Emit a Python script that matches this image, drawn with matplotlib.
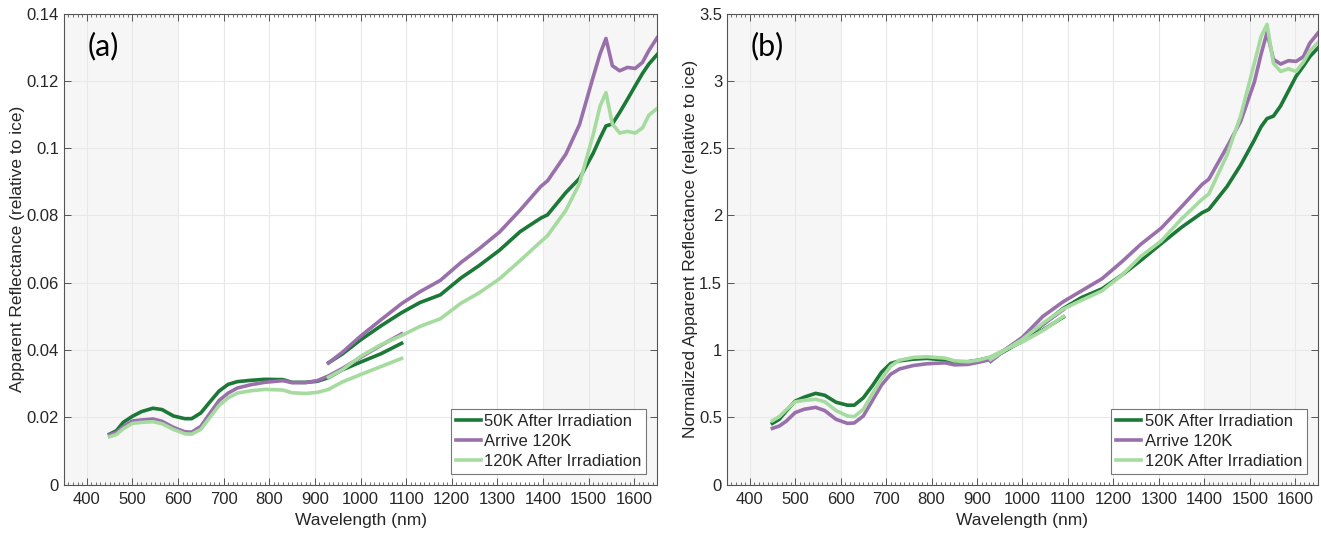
import matplotlib.pyplot as plt
from matplotlib.ticker import MultipleLocator, FuncFormatter

# wavelength grids (nm): visible spectrometer and near-IR spectrometer
wl_vis = [450, 465, 480, 500, 520, 545, 565, 590, 615, 630, 650, 670, 690, 710, 730,
          760, 790, 830, 850, 880, 905, 930, 960, 1000, 1045, 1090]
wl_nir = [930, 960, 1000, 1045, 1090, 1130, 1175, 1220, 1260, 1305, 1350, 1395, 1410,
          1450, 1480, 1510, 1525, 1538, 1552, 1568, 1585, 1602, 1618, 1632, 1650]

labels = ['50K After Irradiation', 'Arrive 120K', '120K After Irradiation']
colors = ['#1b7837', '#9970ab', '#a6dba0']

# panel (a): apparent reflectance
a_50k_vis = [0.0150, 0.0160, 0.0185, 0.0203, 0.0217, 0.0227, 0.0223, 0.0204, 0.0196, 0.0196,
             0.0213, 0.0246, 0.0278, 0.0298, 0.0306, 0.0310, 0.0313, 0.0312, 0.0304, 0.0304,
             0.0307, 0.0318, 0.0341, 0.0364, 0.0389, 0.0420]
a_120_vis = [0.0148, 0.0155, 0.0172, 0.0189, 0.0192, 0.0195, 0.0188, 0.0170, 0.0157, 0.0156,
             0.0173, 0.0212, 0.0250, 0.0272, 0.0287, 0.0297, 0.0304, 0.0309, 0.0303, 0.0303,
             0.0309, 0.0323, 0.0345, 0.0378, 0.0414, 0.0448]
a_120irr_vis = [0.0142, 0.0149, 0.0166, 0.0182, 0.0185, 0.0187, 0.0181, 0.0164, 0.0151, 0.0150,
                0.0164, 0.0200, 0.0235, 0.0258, 0.0272, 0.0279, 0.0283, 0.0281, 0.0273, 0.0271,
                0.0274, 0.0283, 0.0305, 0.0327, 0.0351, 0.0375]
a_50k_nir = [0.0362, 0.0388, 0.0430, 0.0472, 0.0511, 0.0541, 0.0564, 0.0614, 0.0651, 0.0697,
             0.0752, 0.0792, 0.0802, 0.0868, 0.0910, 0.0985, 0.1030, 0.1066, 0.1072, 0.1106,
             0.1145, 0.1185, 0.1222, 0.1250, 0.1278]
a_120_nir = [0.0362, 0.0393, 0.0441, 0.0490, 0.0538, 0.0573, 0.0607, 0.0660, 0.0701, 0.0751,
             0.0816, 0.0886, 0.0903, 0.0982, 0.1070, 0.1212, 0.1280, 0.1326, 0.1245, 0.1230,
             0.1240, 0.1237, 0.1255, 0.1290, 0.1328]
a_120irr_nir = [0.0319, 0.0341, 0.0381, 0.0416, 0.0443, 0.0470, 0.0493, 0.0539, 0.0570, 0.0612,
                0.0666, 0.0722, 0.0740, 0.0815, 0.0895, 0.1040, 0.1125, 0.1165, 0.1072, 0.1045,
                0.1050, 0.1045, 0.1060, 0.1098, 0.1118]

# panel (b): normalized apparent reflectance
b_50k_vis = [0.455, 0.485, 0.545, 0.620, 0.650, 0.678, 0.664, 0.612, 0.590, 0.590, 0.645,
             0.735, 0.835, 0.900, 0.920, 0.932, 0.938, 0.926, 0.913, 0.913, 0.926, 0.946,
             0.995, 1.065, 1.150, 1.245]
b_120_vis = [0.418, 0.435, 0.470, 0.535, 0.560, 0.574, 0.550, 0.485, 0.455, 0.458, 0.510,
             0.625, 0.740, 0.820, 0.860, 0.885, 0.898, 0.905, 0.890, 0.893, 0.910, 0.930,
             1.000, 1.090, 1.190, 1.300]
b_120irr_vis = [0.475, 0.505, 0.555, 0.615, 0.626, 0.634, 0.616, 0.550, 0.510, 0.505, 0.560,
                0.675, 0.785, 0.880, 0.925, 0.945, 0.950, 0.940, 0.920, 0.913, 0.926, 0.950,
                1.000, 1.060, 1.145, 1.250]
b_50k_nir = [0.935, 0.990, 1.070, 1.190, 1.310, 1.390, 1.455, 1.560, 1.665, 1.790, 1.912,
             2.020, 2.045, 2.215, 2.375, 2.560, 2.660, 2.720, 2.738, 2.815, 2.925, 3.035,
             3.110, 3.180, 3.245]
b_120_nir = [0.915, 0.995, 1.095, 1.250, 1.360, 1.440, 1.530, 1.660, 1.785, 1.905, 2.065,
             2.230, 2.270, 2.510, 2.700, 2.990, 3.200, 3.360, 3.160, 3.125, 3.150, 3.145,
             3.180, 3.280, 3.355]
b_120irr_nir = [0.930, 0.995, 1.080, 1.200, 1.305, 1.370, 1.440, 1.560, 1.695, 1.810, 1.975,
                2.120, 2.160, 2.450, 2.740, 3.130, 3.330, 3.420, 3.130, 3.070, 3.090, 3.070,
                3.140, 3.220, 3.285]

plt.rcParams['font.family'] = ['Liberation Sans', 'DejaVu Sans']

fig = plt.figure(figsize=(13.21, 5.33), dpi=100)
ax_a = fig.add_axes([0.0484, 0.0908, 0.449, 0.8837])
ax_b = fig.add_axes([0.5503, 0.0908, 0.4474, 0.8837])

panels = [
    (ax_a, 'Apparent Reflectance (relative to ice)', '(a)', 0.14, 0.02,
     [a_50k_vis, a_120_vis, a_120irr_vis], [a_50k_nir, a_120_nir, a_120irr_nir]),
    (ax_b, 'Normalized Apparent Reflectance (relative to ice)', '(b)', 3.5, 0.5,
     [b_50k_vis, b_120_vis, b_120irr_vis], [b_50k_nir, b_120_nir, b_120irr_nir]),
]

for ax, ylab, tag, ymax, ystep, vis, nir in panels:
    ax.axvspan(350, 600, color='#f6f6f6', lw=0, zorder=0)
    ax.axvspan(1400, 1650, color='#f6f6f6', lw=0, zorder=0)
    handles = []
    for v, n, c, lab in zip(vis, nir, colors, labels):
        h, = ax.plot(wl_vis, v, color=c, lw=2.6, label=lab, zorder=3)
        ax.plot(wl_nir, n, color=c, lw=2.6, zorder=3)
        handles.append(h)

    ax.set_xlim(350, 1650)
    ax.set_ylim(0, ymax)
    ax.xaxis.set_major_locator(MultipleLocator(100))
    ax.xaxis.set_minor_locator(MultipleLocator(10))
    ax.yaxis.set_major_locator(MultipleLocator(ystep))
    ax.yaxis.set_major_formatter(FuncFormatter(lambda val, pos: '%g' % round(val, 4)))
    ax.set_xticks(range(400, 1700, 100))
    ax.grid(True, which='major', color='#e8e8e8', lw=0.8, zorder=1)
    ax.set_axisbelow(True)
    ax.tick_params(which='both', direction='in', top=True, right=True,
                   colors='#555555', labelcolor='#262626', labelsize=12)
    ax.tick_params(axis='x', which='major', pad=5)
    ax.tick_params(which='major', length=5, width=0.7)
    ax.tick_params(which='minor', length=2.5, width=0.6)
    for s in ax.spines.values():
        s.set_color('#555555')
        s.set_linewidth(0.8)

    ax.set_xlabel('Wavelength (nm)', fontsize=12.5, color='#262626', labelpad=5)
    ax.set_ylabel(ylab, fontsize=12.5, color='#262626', labelpad=1)
    ax.text(0.04, 0.93, tag, transform=ax.transAxes, fontsize=22, family='Lato',
            ha='left', va='center', color='black')

    leg = ax.legend(handles=handles, loc='lower right', fontsize=12, frameon=True,
                    fancybox=False, edgecolor='#777777', framealpha=1,
                    handlelength=1.5, handletextpad=0.2, labelspacing=0.3,
                    borderpad=0.3, borderaxespad=0.65)
    leg.get_frame().set_linewidth(0.8)
    for t in leg.get_texts():
        t.set_color('#262626')

fig.savefig('out.png', dpi=100)
